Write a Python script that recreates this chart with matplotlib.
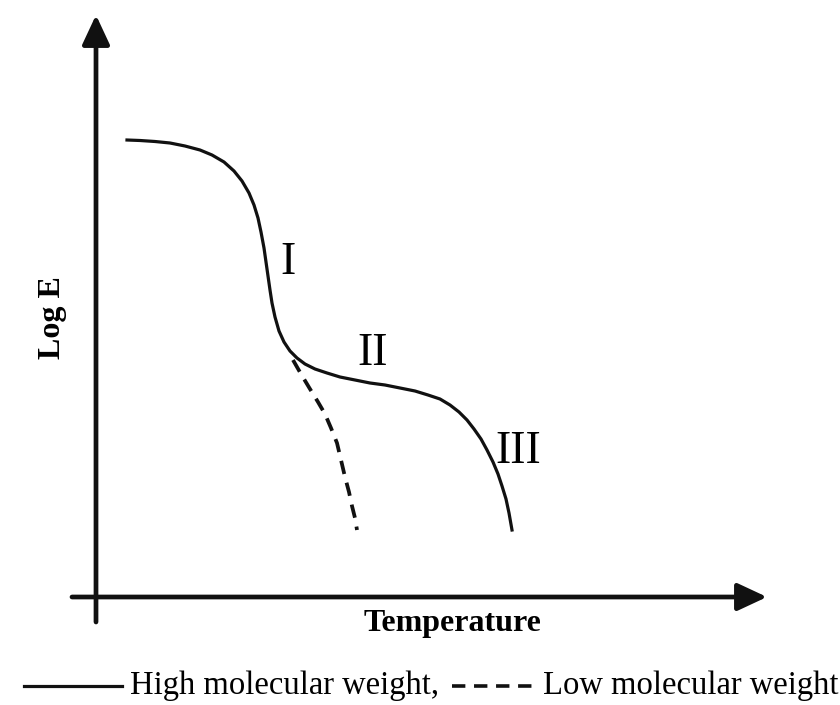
import matplotlib.pyplot as plt

# curve points, x = temperature (arbitrary units), y = log E (arbitrary units)
high_t = [31, 44, 59, 74, 89, 104, 116, 128, 138, 146,
          153, 158, 162, 165, 168, 170, 172, 174, 176, 179,
          183, 188, 194, 201, 209, 219, 231, 244, 259, 274,
          289, 304, 319, 332, 344, 354, 363, 371, 378, 385,
          391, 397, 402, 406, 410, 413, 416]
high_e = [457, 456.5, 455.5, 454, 451, 447, 442, 435, 426, 416,
          404, 392, 379, 365, 349, 335, 321, 307, 294, 280,
          266, 255, 246, 239, 233, 228, 224, 220, 217, 214,
          212, 209, 206, 202, 198, 192, 185, 177, 168, 158,
          147, 135, 123, 111, 98, 84, 67]
low_t = [197, 205, 214, 222, 229, 235, 241, 245, 249, 253, 256, 259, 261]
low_e = [237, 223, 208, 195, 183, 169, 154, 137, 120, 105, 91, 79, 67]

region_labels = ['I', 'II', 'III']
region_t = [192, 277, 422]
region_e = [334, 243, 145]

fig = plt.figure(figsize=(8.4, 7.05), dpi=100)
ax = fig.add_axes([0, 0, 1, 1])
ax.set_xlim(-96, 744)
ax.set_ylim(-108, 597)
ax.axis('off')

serif = ['Liberation Serif', 'DejaVu Serif']

# axes arrows
arrow = dict(arrowstyle='-|>,head_length=0.9,head_width=0.42', lw=3.4,
             color='#111111', shrinkA=0, shrinkB=0, mutation_scale=20)
ax.annotate('', xy=(0, 582), xytext=(0, -25), arrowprops=arrow)
ax.annotate('', xy=(671, 0), xytext=(-24, 0), arrowprops=arrow)

ax.plot(high_t, high_e, color='#111111', lw=2.3, solid_joinstyle='round')
ax.plot(low_t, low_e, color='#111111', lw=2.7, dashes=(3.6, 2.4))

for lab, t, e in zip(region_labels, region_t, region_e):
    ax.text(t, e, lab, ha='center', va='center', fontsize=33, family=serif)

ax.text(356, -27, 'Temperature', ha='center', va='center', fontsize=23,
        fontweight='bold', family=serif)
ax.text(-44, 279, 'Log E', ha='center', va='center', fontsize=23,
        fontweight='bold', rotation=90, family=serif)

# legend row
ax.plot([-72, 26], [-89, -89], color='#111111', lw=2.3)
ax.text(34, -89, 'High molecular weight,', ha='left', va='center',
        fontsize=23.5, family=serif)
ax.plot([356, 440], [-89, -89], color='#111111', lw=2.6, dashes=(3.7, 2.4))
ax.text(447, -89, 'Low molecular weight', ha='left', va='center',
        fontsize=23.5, family=serif)

fig.savefig('out.png', dpi=100)
